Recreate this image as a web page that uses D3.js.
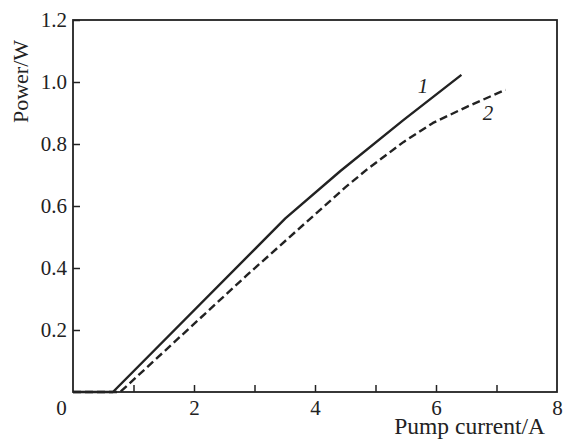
<!DOCTYPE html>
<html>
<head>
<meta charset="utf-8">
<script src="https://cdn.jsdelivr.net/npm/d3@7"></script>
<style>
  html, body { margin: 0; padding: 0; background: #fff; }
  svg { display: block; }
</style>
</head>
<body>
<svg id="chart" width="563" height="439"></svg>
<script>
// Curve 1 (solid)
const solidX = [0, 0.66, 3.51, 4.42, 5.46, 6.42];
const solidY = [0, 0, 0.560, 0.713, 0.877, 1.023];
// Curve 2 (dashed)
const dashX = [0, 0.78, 2.87, 4.50, 4.86, 5.46, 5.95, 6.51, 7.15];
const dashY = [0, 0, 0.376, 0.660, 0.718, 0.806, 0.868, 0.920, 0.975];

const xTicks = [1, 2, 3, 4, 5, 6, 7];
const xLabels = [0, 2, 4, 6, 8];
const yTicks = [0.2, 0.4, 0.6, 0.8, 1.0, 1.2];
const curveNames = ["1", "2"];

const FONT = "'Liberation Serif', 'Times New Roman', serif";
const svg = d3.select("#chart");
const L = 73, R = 557, T = 20, B = 392;
const x = d3.scaleLinear().domain([0, 8]).range([L, R]);
const y = d3.scaleLinear().domain([0, 1.2]).range([B, T]);
const ink = "#222";

// x inward ticks
const gx = svg.append("g").attr("transform", `translate(0,${B})`)
  .call(d3.axisBottom(x).tickValues(xTicks).tickSizeInner(-7).tickSizeOuter(0).tickFormat(""));
gx.select(".domain").remove();
gx.selectAll("line").attr("stroke", ink).attr("stroke-width", 1.5);

// x labels
const gxl = svg.append("g").attr("transform", `translate(0,${B})`)
  .call(d3.axisBottom(x).tickValues(xLabels).tickSize(0).tickPadding(8).tickFormat(d3.format("d")));
gxl.select(".domain").remove();
gxl.selectAll("text").style("font-size", "21px").style("font-family", FONT).attr("fill", ink)
  .attr("dx", d => d === 0 ? -12 : 0);

// y axis
const gy = svg.append("g").attr("transform", `translate(${L},0)`)
  .call(d3.axisLeft(y).tickValues(yTicks).tickSizeInner(-7).tickSizeOuter(0).tickPadding(6).tickFormat(d3.format(".1f")));
gy.select(".domain").remove();
gy.selectAll("line").attr("stroke", ink).attr("stroke-width", 1.5);
gy.selectAll("text").style("font-size", "21px").style("font-family", FONT).attr("fill", ink);

// frame
svg.append("rect").attr("x", L).attr("y", T).attr("width", R - L).attr("height", B - T)
  .attr("fill", "none").attr("stroke", ink).attr("stroke-width", 1.8);

const line = d3.line().x(d => x(d[0])).y(d => y(d[1]));
svg.append("path").datum(solidX.map((v, i) => [v, solidY[i]]))
  .attr("d", line).attr("fill", "none").attr("stroke", ink).attr("stroke-width", 2.4)
  .attr("stroke-linejoin", "round");
svg.append("path").datum(dashX.map((v, i) => [v, dashY[i]]))
  .attr("d", line).attr("fill", "none").attr("stroke", ink).attr("stroke-width", 2.4)
  .attr("stroke-linejoin", "round").attr("stroke-dasharray", "8,4");

// curve labels
svg.append("text").attr("x", 423).attr("y", 93).attr("text-anchor", "middle")
  .style("font-family", FONT).style("font-size", "21px").style("font-style", "italic")
  .attr("fill", ink).text(curveNames[0]);
svg.append("text").attr("x", 488).attr("y", 120).attr("text-anchor", "middle")
  .style("font-family", FONT).style("font-size", "21px").style("font-style", "italic")
  .attr("fill", ink).text(curveNames[1]);

// axis titles
svg.append("text").attr("x", 545).attr("y", 434).attr("text-anchor", "end")
  .style("font-family", FONT).style("font-size", "23.5px").attr("fill", ink).text("Pump current/A");
svg.append("text").attr("transform", "translate(28,81.5) rotate(-90)").attr("text-anchor", "middle")
  .style("font-family", FONT).style("font-size", "22px").attr("fill", ink).text("Power/W");
</script>
</body>
</html>
